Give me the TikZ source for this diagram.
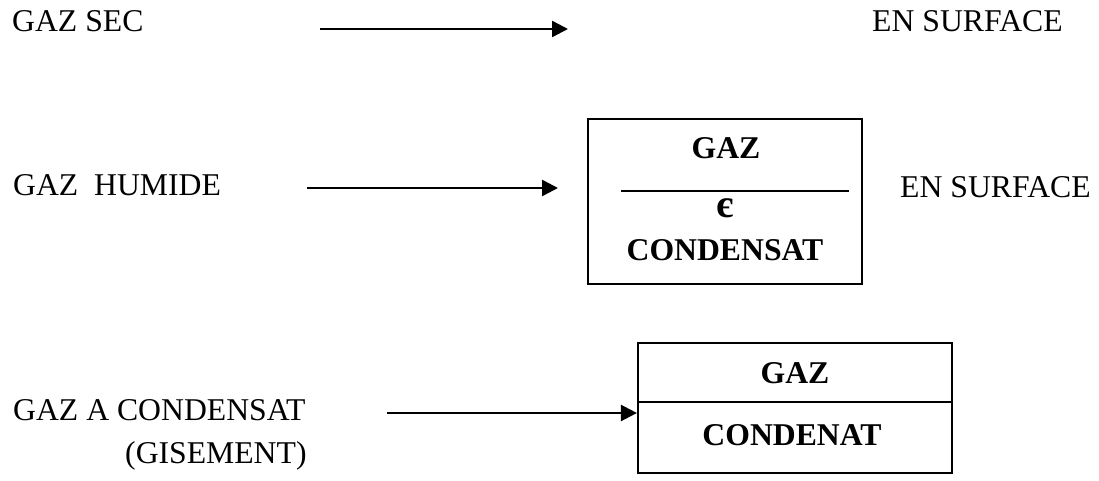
\documentclass[tikz,border=0pt]{standalone}
\usepackage{fontspec}
\setmainfont{Liberation Serif}
\usetikzlibrary{arrows.meta}
\begin{document}
\begin{tikzpicture}[x=1pt,y=1pt,
  lbl/.style={inner sep=0pt,anchor=base west,font=\fontsize{31.7}{38}\selectfont},
  blbl/.style={inner sep=0pt,anchor=base,font=\fontsize{31.7}{38}\selectfont\bfseries},
  frame/.style={draw,line width=2.2pt,inner sep=0pt},
  flow/.style={line width=2.4pt,-{Triangle[length=16pt,width=16pt]}}]
\useasboundingbox (0,0) rectangle (1099,-481);

% row 1: dry gas
\node[lbl] (sec) at (12,-32) {GAZ SEC};
\node[lbl] (surf1) at (872,-32) {EN SURFACE};
\coordinate (a1s) at (320,-29);
\coordinate (a1e) at (568,-29);
\draw[flow] (a1s) -- (a1e);

% row 2: wet gas
\node[lbl] (hum) at (13,-196) {GAZ\ \ HUMIDE};
\node[frame,minimum width=274pt,minimum height=165pt] (humbox) at (725,-201.5) {};
\node[blbl] (hgaz) at (726,-159) {GAZ};
\node[blbl,font=\fontsize{40}{44}\selectfont\bfseries] (heps) at (725,-217) {є};
\node[blbl] (hcond) at (725,-260) {CONDENSAT};
\coordinate (hl) at (621,-191);
\coordinate (hr) at (849,-191);
\draw[line width=1.8pt] (hl) -- (hr);
\node[lbl] (surf2) at (900,-197) {EN SURFACE};
\coordinate (a2s) at (307,-188);
\coordinate (a2e) at (558,-188);
\draw[flow] (a2s) -- (a2e);

% row 3: gas condensate
\node[lbl] (cond) at (13,-420) {GAZ A CONDENSAT};
\node[lbl] (gis) at (125,-463) {(GISEMENT)};
\node[frame,minimum width=314pt,minimum height=130pt] (cbox) at (795,-408) {};
\draw[line width=1.8pt] (cbox.west |- 0,-402) -- (cbox.east |- 0,-402);
\node[blbl] (cgaz) at (795,-383) {GAZ};
\node[blbl] (ccond) at (792,-445) {CONDENAT};
\coordinate (a3s) at (387,-413);
\draw[flow] (a3s) -- (cbox.west |- a3s);
\end{tikzpicture}
\end{document}
